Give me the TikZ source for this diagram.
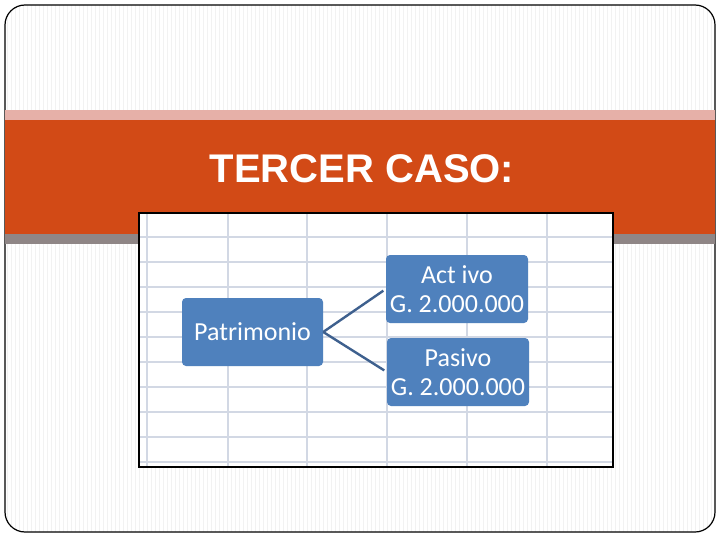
\documentclass[tikz,border=0pt]{standalone}
\usepackage{fontspec}
\newfontfamily\titlefont{Liberation Sans}
\newfontfamily\boxfont{Carlito}
\usetikzlibrary{positioning}
\definecolor{bandorange}{RGB}{210,74,22}
\definecolor{bandsalmon}{RGB}{230,176,168}
\definecolor{bandgray}{RGB}{143,134,134}
\definecolor{boxblue}{RGB}{79,129,189}
\definecolor{linkblue}{RGB}{62,96,142}
\definecolor{gridline}{RGB}{210,216,228}
\definecolor{stripe}{RGB}{242,242,242}
\tikzset{
  account/.style={
    shape = rectangle,
    rounded corners = 4pt,
    fill = boxblue,
    text = white,
    minimum width = 142pt,
    minimum height = 68pt,
    inner sep = 0pt,
    align = center,
    font = \boxfont\fontsize{26}{29}\selectfont
  },
  link/.style={
    draw = linkblue,
    line width = 2.4pt,
    shorten > = 3pt
  },
  gridrule/.style={
    draw = gridline,
    line width = 1.4pt
  }
}
\begin{document}
\begin{tikzpicture}[x=1pt,y=-1pt]
    \useasboundingbox (0,0) rectangle (720,540);
    % slide background
    \begin{scope}
        \clip[rounded corners=20pt] (5,5) rectangle (715,532);
        \foreach \x in {7,11,...,713}{
        \draw[stripe, line width=1pt] (\x,5) -- (\x,532);
        }
    \end{scope}
    \draw[line width=1.2pt, rounded corners=20pt] (5,5) rectangle (715,532);
    \fill[bandsalmon] (5,110) rectangle (715,120);
    \fill[bandorange] (5,120) rectangle (715,234);
    \fill[bandgray] (5,234) rectangle (715,244);
    \node[font=\titlefont\bfseries\fontsize{40}{48}\selectfont, text=white, anchor=base, inner sep=0pt] (title) at (362,183) {TERCER CASO:};
    % spreadsheet picture
    \fill[white] (139,213) rectangle (613,467);
    \foreach \x in {147,228,307,387,467,547}{
    \draw[gridrule] (\x,213) -- (\x,467);
    }
    \foreach \y in {237,262,...,462}{
    \draw[gridrule] (139,\y) -- (613,\y);
    }
    \draw[line width=2pt] (139,213) rectangle (613,467);
    \node[account, minimum width=141pt] (patrimonio) at (252.5,332) {Patrimonio};
    \node[account] (activo) at (457,289) {Act ivo\\G. 2.000.000};
    \node[account] (pasivo) at (458,372) {Pasivo\\G. 2.000.000};
    \draw[link] (patrimonio.east) -- (activo.west);
    \draw[link] (patrimonio.east) -- (pasivo.west);
\end{tikzpicture}
\end{document}
